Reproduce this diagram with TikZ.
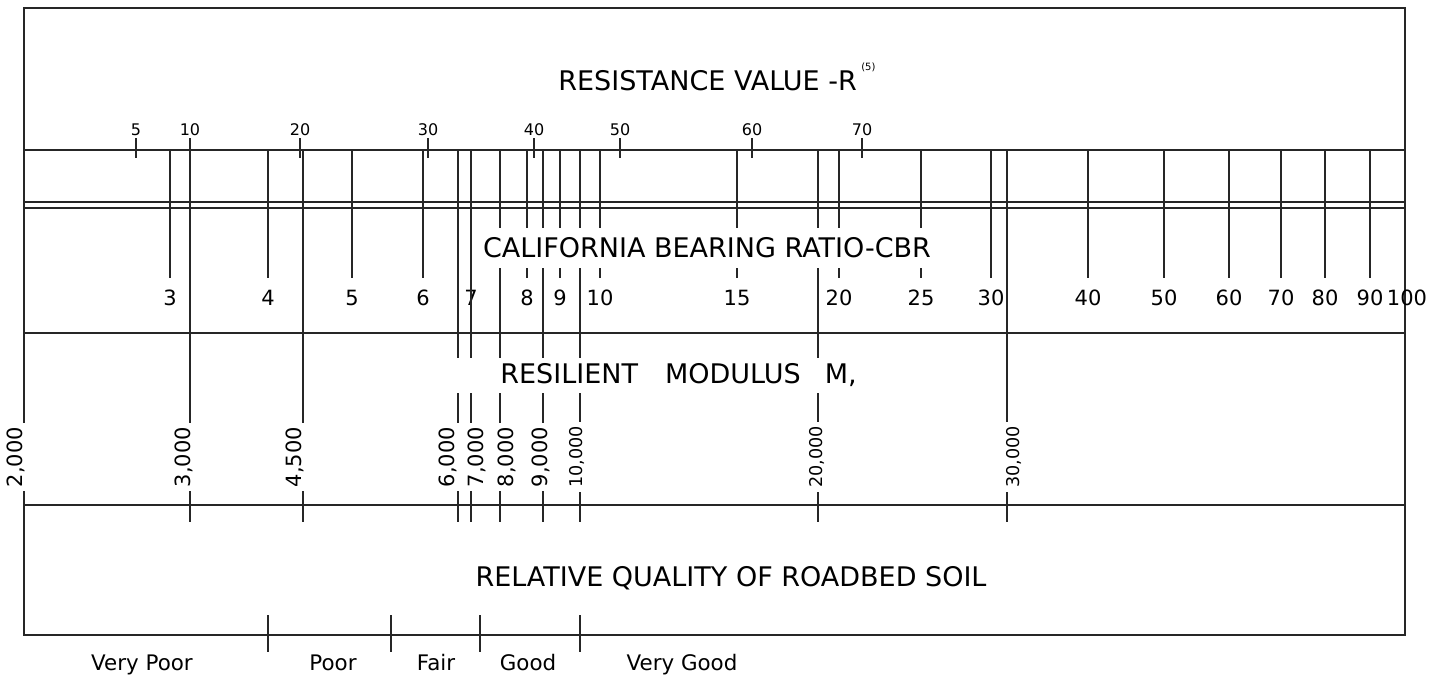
\documentclass[tikz,border=0pt]{standalone}
\usepackage{fontspec}
\setmainfont{DejaVu Sans}
\usepackage{tikz}

\begin{document}
\begin{tikzpicture}[x=0.5pt,y=-0.5pt,
		scaleline/.style={line width=0.6pt,black!85},
		head/.style={inner sep=0pt,font=\fontsize{13.5}{16}\selectfont},
		rlab/.style={inner sep=0pt,font=\fontsize{8}{9}\selectfont},
		cbrlab/.style={inner sep=0pt,font=\fontsize{10.5}{12}\selectfont},
		mlab/.style={rotate=90,fill=white,inner xsep=2pt,inner ysep=1pt,font=\fontsize{10.5}{12}\selectfont},
		mlabsmall/.style={mlab,font=\fontsize{8.8}{10}\selectfont},
		qlab/.style={inner sep=0pt,font=\fontsize{10.7}{12}\selectfont}]
				\useasboundingbox (0,0) rectangle (1440,680);
				
				% frame and bands
				\draw[scaleline] (24,8) rectangle (1405,635);
				\foreach \y in {150,202,208,333,505}{
					\draw[scaleline] (24,\y) -- (1405,\y);
				}
				
				% resistance value
				\node[head,anchor=base west] (rtitle) at (558,90)
					{RESISTANCE VALUE -R\,\raisebox{9.5pt}{\fontsize{5}{6}\selectfont(5)}};
				\foreach \x/\v in
				{136/5, 190/10, 300/20, 428/30, 534/40, 620/50, 752/60, 862/70}{
					\coordinate (rt\v) at (\x,138);
					\draw[scaleline] (rt\v) -- ++(0,20);
					\node[rlab,anchor=base] (r\v) at (\x,135) {\v};
				}
				
				% california bearing ratio
				\foreach \x/\v in
				{170/3, 268/4, 352/5, 423/6, 527/8, 560/9, 600/10, 737/15, 839/20, 921/25,
				 991/30, 1088/40, 1164/50, 1229/60, 1281/70, 1325/80, 1370/90}{
					\coordinate (ct\v) at (\x,150);
					\draw[scaleline] (ct\v) -- ++(0,128);
					\node[cbrlab,anchor=base] (cbr\v) at (\x,305) {\v};
				}
				\node[cbrlab,anchor=base] (cbr7) at (471,305) {7}; % on the 7,000 line
				\node[cbrlab,anchor=base] (cbr100) at (1407,305) {100}; % on the frame
				
				% resilient modulus
				\foreach \x/\dx/\v in
				{190/-6/{3,000}, 303/-8/{4,500}, 458/-10/{6,000}, 471/6/{7,000}, 500/7/{8,000}, 543/-2/{9,000}}{
					\draw[scaleline] (\x,150) -- (\x,522);
					\node[mlab] at (\x+\dx,457) {\v};
				}
				\foreach \x/\dx/\v in
				{580/-3/{10,000}, 818/-1/{20,000}, 1007/7/{30,000}}{
					\draw[scaleline] (\x,150) -- (\x,522);
					\node[mlabsmall] at (\x+\dx,457) {\v};
				}
				\node[mlab] (m2000) at (16,457) {2,000}; % on the frame
				
				% titles over the lines
				\node[head,fill=white,inner xsep=3pt,minimum height=20pt] (cbrtitle) at (707,248)
					{CALIFORNIA BEARING RATIO-CBR};
				\node[head,fill=white,anchor=west,minimum height=17.5pt,text width=207.5pt,align=left] (mtitle) at (450,375)
					{\hspace*{25pt}RESILIENT\hspace{13.5pt}MODULUS\hspace{12pt}M,};
				
				% relative quality
				\node[head] (qtitle) at (731,578) {RELATIVE QUALITY OF ROADBED SOIL};
				\foreach \x in {268,391,480,580}{
					\draw[scaleline] (\x,615) -- (\x,652);
				}
				\foreach \x/\q in
				{142/Very Poor, 333/Poor, 436/Fair, 528/Good, 682/Very Good}{
					\node[qlab,anchor=base] at (\x,670) {\q};
				}
			\end{tikzpicture}
\end{document}
